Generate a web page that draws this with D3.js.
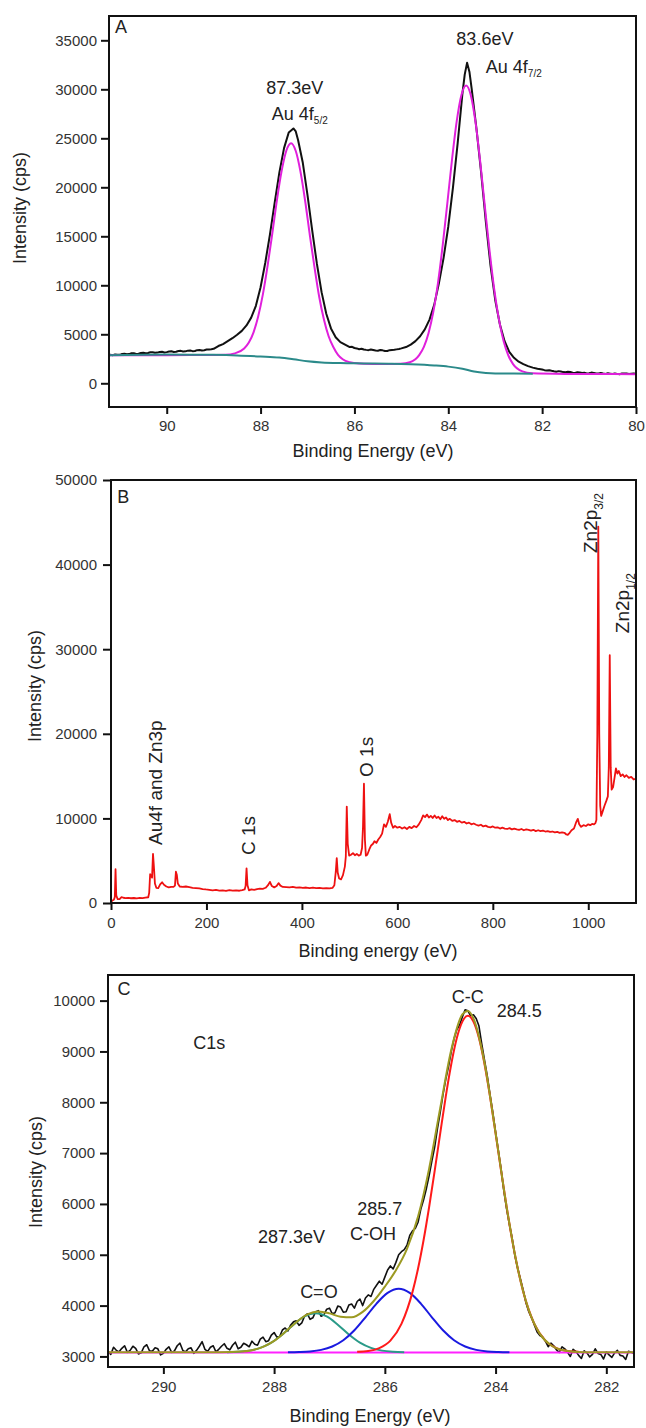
<!DOCTYPE html>
<html>
<head>
<meta charset="utf-8">
<script src="https://cdn.jsdelivr.net/npm/d3@7"></script>
<style>
body { margin: 0; background: #fff; }
svg { display: block; }
text { font-family: Arial, "Liberation Sans", sans-serif; }
</style>
</head>
<body>
<svg id="chart" width="646" height="1428"></svg>
<script>
// ---- panel A: Au 4f (binding energy eV, cps) ----
var aRaw = [[91.23,2830],[91.2,2900],[91.15,2870],[91.1,2950],[91.05,2920],[91.0,2900],[90.95,2990],[90.9,3010],[90.85,2960],[90.8,2980],[90.75,3070],[90.7,3060],[90.65,3000],[90.6,3020],[90.55,3100],[90.5,3120],[90.45,3060],[90.4,3090],[90.35,3160],[90.3,3170],[90.25,3110],[90.2,3130],[90.15,3200],[90.1,3210],[90.05,3150],[90.0,3180],[89.95,3250],[89.9,3260],[89.85,3200],[89.8,3220],[89.75,3300],[89.7,3310],[89.65,3240],[89.6,3260],[89.55,3330],[89.5,3340],[89.45,3280],[89.4,3290],[89.35,3380],[89.3,3400],[89.25,3340],[89.2,3380],[89.15,3440],[89.1,3450],[89.05,3480],[89.0,3520],[88.9,3800],[88.8,4000],[88.7,4300],[88.6,4600],[88.5,4950],[88.4,5350],[88.3,5900],[88.2,6700],[88.1,7900],[88.0,9800],[87.9,12300],[87.8,15200],[87.7,18400],[87.6,21500],[87.5,24000],[87.4,25600],[87.3,26000],[87.25,25700],[87.2,24800],[87.1,22500],[87.0,19200],[86.9,15600],[86.8,12200],[86.7,9300],[86.6,7100],[86.5,5600],[86.4,4700],[86.3,4200],[86.2,3950],[86.1,3700],[86.05,3720],[86.0,3600],[85.95,3560],[85.9,3480],[85.85,3530],[85.8,3450],[85.75,3410],[85.7,3380],[85.65,3450],[85.6,3400],[85.55,3340],[85.5,3320],[85.45,3390],[85.4,3360],[85.35,3290],[85.3,3300],[85.25,3380],[85.2,3400],[85.15,3420],[85.1,3460],[85.05,3500],[85.0,3560],[84.9,3700],[84.8,3950],[84.7,4300],[84.6,4800],[84.5,5500],[84.4,6500],[84.3,8000],[84.2,10200],[84.1,12800],[84.0,16000],[83.9,20000],[83.8,24500],[83.7,29500],[83.65,31500],[83.6,32700],[83.55,31800],[83.5,30000],[83.4,26000],[83.3,21500],[83.2,16500],[83.1,12000],[83.0,8500],[82.9,6000],[82.8,4300],[82.7,3200],[82.6,2600],[82.5,2200],[82.4,1950],[82.3,1750],[82.2,1600],[82.1,1480],[82.0,1400],[81.95,1340],[81.9,1300],[81.85,1330],[81.8,1270],[81.75,1220],[81.7,1180],[81.65,1240],[81.6,1200],[81.55,1140],[81.5,1120],[81.45,1180],[81.4,1150],[81.35,1080],[81.3,1060],[81.25,1120],[81.2,1100],[81.15,1040],[81.1,1080],[81.05,1010],[81.0,1030],[80.95,1090],[80.9,1060],[80.85,990],[80.8,990],[80.75,1050],[80.7,1000],[80.65,960],[80.6,1020],[80.55,980],[80.5,940],[80.45,1000],[80.4,960],[80.35,930],[80.3,990],[80.25,1010],[80.2,1000],[80.15,950],[80.1,980],[80.05,1000],[80.0,960]];
var aFit = [[91.23,2850],[90.5,2860],[90,2870],[89.5,2880],[88.95,2885],[88.75,2900],[88.55,3050],[88.35,3550],[88.25,4150],[88.15,5200],[88.05,6850],[87.95,9100],[87.85,12000],[87.75,15300],[87.65,18750],[87.55,21700],[87.45,23760],[87.35,24500],[87.25,23700],[87.15,21600],[87.05,18600],[86.95,15100],[86.85,11800],[86.75,8800],[86.65,6500],[86.55,4800],[86.45,3700],[86.35,2900],[86.25,2450],[86.1,2150],[85.9,2020],[85.6,1980],[85.3,1970],[85.02,2000],[84.82,2150],[84.62,2880],[84.52,3725],[84.42,5140],[84.32,7270],[84.22,10230],[84.12,14040],[84.02,18390],[83.92,22860],[83.82,26760],[83.72,29430],[83.62,30400],[83.52,29400],[83.42,26640],[83.32,22610],[83.22,18000],[83.12,13500],[83.02,9560],[82.92,6500],[82.82,4290],[82.72,2835],[82.62,1960],[82.42,1210],[82.22,1020],[81.5,960],[81,950],[80,930]];
var aBg = [[91.23,2870],[90.5,2920],[90,2940],[89.5,2920],[89,2900],[88.5,2840],[88,2730],[87.6,2620],[87.3,2450],[87.0,2250],[86.7,2130],[86.3,2060],[85.8,2030],[85.2,2000],[84.8,1940],[84.3,1820],[84.0,1700],[83.7,1480],[83.45,1200],[83.2,1060],[83.0,1010],[82.6,990],[82.2,980]];
var aXTicks = [90, 88, 86, 84, 82, 80];
var aYTicks = [0, 5000, 10000, 15000, 20000, 25000, 30000, 35000];

// ---- panel B: survey ----
var bSurvey = [[0,100],[3,300],[6,380],[8,700],[9.5,4000],[11,900],[14,450],[18,470],[22,700],[26,620],[30,580],[36,600],[42,560],[48,590],[54,550],[60,600],[66,580],[72,630],[78,680],[80,1200],[82,3400],[84,3200],[86,3000],[88,5800],[90,4200],[92,2300],[95,1800],[99,1750],[103,2200],[107,2450],[111,2150],[116,1950],[121,1850],[126,1900],[131,1900],[134,2050],[136,3700],[138,3300],[140,2300],[144,1950],[150,1900],[157,1950],[164,1880],[171,1800],[178,1760],[185,1720],[192,1650],[199,1600],[206,1560],[213,1500],[220,1550],[227,1470],[234,1500],[241,1440],[248,1520],[255,1460],[262,1500],[269,1450],[275,1520],[280,1600],[282,2000],[284,4100],[286,2100],[289,1500],[294,1600],[300,1560],[306,1650],[312,1700],[318,1680],[324,1800],[329,2100],[333,2500],[337,2000],[342,1850],[347,2000],[351,2350],[355,2050],[360,1900],[367,1880],[374,1850],[381,1900],[388,1820],[395,1850],[402,1790],[409,1830],[416,1760],[423,1810],[430,1750],[437,1790],[444,1730],[451,1770],[458,1720],[464,1780],[468,2100],[471,3700],[473,5300],[475,3600],[478,2900],[482,2800],[486,3300],[490,4300],[492,5500],[494,11400],[496,7000],[499,5600],[503,5700],[507,5900],[511,5650],[515,5800],[519,5600],[523,5700],[526,6500],[528,9000],[530,14100],[532,7500],[534,5600],[537,5700],[541,6300],[545,6800],[549,7000],[552,7300],[556,7100],[560,7500],[564,7800],[568,8200],[572,9300],[576,9000],[580,9600],[584,10500],[587,9500],[591,8900],[595,9100],[600,8900],[605,9000],[610,8800],[615,8950],[620,8750],[625,9000],[630,8850],[635,9100],[640,8950],[645,9300],[650,9800],[654,10350],[658,10150],[662,10450],[666,10100],[670,10300],[674,10050],[678,10350],[682,10050],[686,10200],[690,9900],[694,10250],[698,9950],[702,10100],[706,9800],[710,9950],[715,9700],[720,9800],[725,9600],[730,9700],[735,9500],[740,9600],[745,9400],[750,9500],[755,9300],[760,9400],[765,9250],[770,9150],[775,9250],[780,9050],[785,9150],[790,9000],[795,8950],[800,9050],[805,8900],[810,8950],[815,8800],[820,8900],[825,8800],[830,8750],[835,8850],[840,8700],[845,8800],[850,8700],[855,8650],[860,8750],[865,8600],[870,8700],[875,8650],[880,8550],[885,8650],[890,8500],[895,8600],[900,8500],[905,8550],[910,8450],[915,8500],[920,8400],[925,8450],[930,8350],[935,8400],[940,8300],[945,8350],[950,8300],[954,8100],[957,8050],[961,8300],[965,8600],[970,8800],[975,9600],[978,9950],[981,9300],[985,9000],[990,9200],[995,9100],[1000,9300],[1004,9200],[1008,9350],[1012,9300],[1015,9450],[1017,9800],[1019,20000],[1021,44500],[1023,20000],[1025,11500],[1027,10300],[1030,10800],[1034,11500],[1038,12100],[1041,12600],[1043,16000],[1045,29300],[1047,16000],[1049,13400],[1052,13700],[1055,14800],[1058,15900],[1061,15300],[1064,15600],[1068,15000],[1072,15200],[1076,14900],[1080,15100],[1085,14800],[1090,14900],[1095,14600],[1100,14700]];
var bXTicks = [0, 200, 400, 600, 800, 1000];
var bYTicks = [0, 10000, 20000, 30000, 40000, 50000];

// ---- panel C: C1s ----
var cRaw = [[291.00,3110],[290.95,3040],[290.90,3180],[290.85,3120],[290.80,3090],[290.75,3160],[290.70,3210],[290.65,3080],[290.60,3120],[290.55,3200],[290.50,3160],[290.45,3050],[290.40,3070],[290.35,3190],[290.30,3230],[290.25,3110],[290.20,3100],[290.15,3170],[290.10,3150],[290.05,3030],[290.00,3060],[289.95,3140],[289.90,3190],[289.85,3080],[289.80,3110],[289.75,3210],[289.70,3260],[289.65,3120],[289.60,3090],[289.55,3150],[289.50,3170],[289.45,3060],[289.40,3120],[289.35,3200],[289.30,3290],[289.25,3140],[289.20,3100],[289.15,3180],[289.10,3210],[289.05,3090],[289.00,3140],[288.95,3200],[288.90,3250],[288.85,3160],[288.80,3130],[288.75,3220],[288.70,3280],[288.65,3150],[288.60,3180],[288.55,3260],[288.50,3230],[288.45,3190],[288.40,3300],[288.35,3240],[288.30,3220],[288.25,3340],[288.20,3380],[288.15,3290],[288.10,3310],[288.05,3420],[288.00,3470],[287.95,3380],[287.90,3390],[287.85,3520],[287.80,3560],[287.75,3500],[287.70,3620],[287.65,3680],[287.60,3700],[287.55,3610],[287.50,3660],[287.45,3790],[287.40,3840],[287.35,3730],[287.30,3760],[287.25,3880],[287.20,3900],[287.15,3790],[287.10,3820],[287.05,3930],[287.00,3950],[286.95,3840],[286.90,3860],[286.85,3990],[286.80,3970],[286.75,3870],[286.70,3880],[286.65,4010],[286.60,4030],[286.55,3950],[286.50,4080],[286.45,4130],[286.40,4000],[286.35,4150],[286.30,4210],[286.25,4180],[286.20,4320],[286.15,4400],[286.10,4480],[286.05,4420],[286.00,4560],[285.95,4700],[285.90,4780],[285.85,4720],[285.80,4850],[285.75,5000],[285.70,5060],[285.65,5100],[285.60,5190],[285.55,5380],[285.50,5470],[285.45,5520],[285.40,5640],[285.35,5900],[285.30,6080],[285.25,6300],[285.20,6560],[285.15,6850],[285.10,7120],[285.05,7480],[285.00,7800],[284.95,8150],[284.90,8450],[284.85,8700],[284.80,9000],[284.75,9250],[284.70,9430],[284.65,9520],[284.60,9680],[284.55,9820],[284.50,9800],[284.45,9700],[284.40,9720],[284.35,9650],[284.30,9500],[284.25,9150],[284.20,8830],[284.15,8520],[284.10,8150],[284.05,7800],[284.00,7420],[283.95,7050],[283.90,6680],[283.85,6250],[283.80,5900],[283.75,5600],[283.70,5320],[283.65,4980],[283.60,4730],[283.55,4520],[283.50,4300],[283.45,4050],[283.40,3880],[283.35,3760],[283.30,3620],[283.25,3480],[283.20,3410],[283.15,3380],[283.10,3300],[283.05,3190],[283.00,3260],[282.95,3210],[282.90,3130],[282.85,3080],[282.80,3190],[282.75,3150],[282.70,3080],[282.65,3000],[282.60,3140],[282.55,3100],[282.50,3020],[282.45,2960],[282.40,3110],[282.35,3070],[282.30,2990],[282.25,3040],[282.20,3150],[282.15,3060],[282.10,3040],[282.05,2950],[282.00,3090],[281.95,3030],[281.90,2980],[281.85,3070],[281.80,3120],[281.75,3020],[281.70,3010],[281.65,2940],[281.60,3100],[281.55,3080],[281.50,3060]];
var cBase = [[291,3078],[281.5,3078]];
var cCO = [[288.85,3083],[288.65,3091],[288.45,3114],[288.25,3168],[288.05,3272],[287.85,3432],[287.65,3624],[287.45,3786],[287.25,3850],[287.05,3786],[286.85,3624],[286.65,3432],[286.45,3272],[286.25,3168],[286.05,3114],[285.85,3091],[285.65,3083]];
var cCOH = [[287.75,3081],[287.55,3086],[287.35,3098],[287.15,3129],[286.95,3196],[286.75,3319],[286.55,3514],[286.35,3770],[286.15,4040],[285.95,4250],[285.75,4330],[285.55,4250],[285.35,4040],[285.15,3770],[284.95,3514],[284.75,3319],[284.55,3196],[284.35,3129],[284.15,3098],[283.95,3086],[283.75,3081]];
var cCC = [[286.5,3090],[286.3,3105],[286.1,3162],[285.9,3310],[285.7,3640],[285.5,4270],[285.4,4730],[285.3,5290],[285.2,5940],[285.1,6650],[285.0,7390],[284.9,8113],[284.8,8753],[284.7,9263],[284.6,9587],[284.5,9700],[284.4,9587],[284.3,9263],[284.2,8753],[284.1,8113],[284.0,7390],[283.9,6650],[283.8,5940],[283.7,5290],[283.6,4730],[283.5,4270],[283.3,3640],[283.1,3310],[282.9,3162],[282.7,3105],[282.5,3090]];
var cEnv = [[291,3080],[289.5,3080],[289,3081],[288.6,3095],[288.4,3123],[288.2,3188],[288.0,3307],[287.8,3480],[287.6,3674],[287.4,3827],[287.2,3885],[287.0,3847],[286.8,3779],[286.6,3769],[286.4,3876],[286.2,4091],[286.0,4373],[285.8,4697],[285.6,5117],[285.4,5751],[285.2,6695],[285.0,7885],[284.8,9035],[284.6,9727],[284.5,9795],[284.4,9648],[284.2,8778],[284.0,7399],[283.8,5939],[283.6,4730],[283.4,3911],[283.2,3444],[283.0,3220],[282.8,3126],[282.6,3094],[282.4,3084],[281.5,3080]];
var cXTicks = [290, 288, 286, 284, 282];
var cYTicks = [3000, 4000, 5000, 6000, 7000, 8000, 9000, 10000];

// annotations in data units: [x, y, text, subscript, anchor]
var aNotes = [[91.1, 35700, 'A'], [87.27, 29500, '87.3eV', null, 'middle'], [87.76, 26840, 'Au 4f', '5/2'], [83.22, 34500, '83.6eV', null, 'middle'], [83.2, 31630, 'Au 4f', '7/2']];
var bNotes = [[13, 47280, 'B']];
var bPeaks = [[93, 6860, 'Au4f and Zn3p'], [288, 5670, 'C 1s'], [535, 14900, 'O 1s'], [1004, 41370, 'Zn2p', '3/2'], [1071, 31900, 'Zn2p', '1/2']];
var cNotes = [[290.83, 10117, 'C'], [289.46, 9058, 'C1s'], [284.79, 9960, 'C-C'], [283.98, 9686, '284.5'], [286.5, 5780, '285.7'], [286.63, 5290, 'C-OH'], [288.29, 5230, '287.3eV'], [287.53, 4152, 'C=O']];

var svg = d3.select('#chart');
var fmt = d3.format('d');

function addNote(g, px, py, n, rotate) {
  var t = g.append('text').attr('font-size', 18).attr('fill', '#222');
  if (rotate) {
    t.attr('transform', 'translate(' + px + ',' + py + ') rotate(-90)').attr('dy', '0.35em').attr('font-size', 19);
  } else {
    t.attr('x', px).attr('y', py);
  }
  if (n[4]) t.attr('text-anchor', n[4]);
  t.append('tspan').text(n[2]);
  if (n[3]) t.append('tspan').attr('font-size', rotate ? 12 : 10).attr('dy', rotate ? 6 : 4).text(n[3]);
}

function drawPanel(p) {
  var x = d3.scaleLinear().domain(p.xDomain).range([p.left, p.right]);
  var y = d3.scaleLinear().domain(p.yDomain).range([p.bottom, p.top]);
  var g = svg.append('g');
  svg.append('clipPath').attr('id', 'clip' + p.name).append('rect')
    .attr('x', p.left).attr('y', p.top)
    .attr('width', p.right - p.left).attr('height', p.bottom - p.top);
  var plot = g.append('g').attr('clip-path', 'url(#clip' + p.name + ')');

  p.series.forEach(function(s) {
    var line = d3.line()
      .x(function(d) { return x(d[0]); })
      .y(function(d) { return y(d[1]); })
      .curve(s.smooth ? d3.curveMonotoneX : d3.curveLinear);
    plot.append('path')
      .attr('d', line(s.data))
      .attr('fill', 'none')
      .attr('stroke', s.color)
      .attr('stroke-width', s.width)
      .attr('stroke-linejoin', 'round');
  });

  var xa = g.append('g').attr('transform', 'translate(0,' + p.bottom + ')')
    .call(d3.axisBottom(x).tickValues(p.xTicks).tickSize(7).tickPadding(p.xPad).tickFormat(fmt));
  var ya = g.append('g').attr('transform', 'translate(' + p.left + ',0)')
    .call(d3.axisLeft(y).tickValues(p.yTicks).tickSize(8).tickPadding(p.yPad).tickFormat(fmt));
  [xa, ya].forEach(function(a) {
    a.select('.domain').remove();
    a.selectAll('line').attr('stroke', '#111').attr('stroke-width', 2);
    a.selectAll('text').attr('font-size', 15).attr('fill', '#333')
      .attr('font-family', 'Arial, "Liberation Sans", sans-serif');
  });

  g.append('rect')
    .attr('x', p.left).attr('y', p.top)
    .attr('width', p.right - p.left).attr('height', p.bottom - p.top)
    .attr('fill', 'none').attr('stroke', '#111').attr('stroke-width', 2);

  g.append('text').attr('x', p.xTitle[0]).attr('y', p.xTitle[1])
    .attr('text-anchor', 'middle').attr('font-size', 18).attr('fill', '#222')
    .text(p.xLabel);
  g.append('text')
    .attr('transform', 'translate(' + p.yTitle[0] + ',' + p.yTitle[1] + ') rotate(-90)')
    .attr('text-anchor', 'middle').attr('dy', '0.35em').attr('font-size', 18).attr('fill', '#222')
    .text('Intensity (cps)');

  (p.notes || []).forEach(function(n) { addNote(g, x(n[0]), y(n[1]), n, false); });
  (p.vnotes || []).forEach(function(n) { addNote(g, x(n[0]), y(n[1]), n, true); });
}

drawPanel({
  name: 'A', xDomain: [91.23, 80], yDomain: [-2420, 37480],
  left: 109, right: 636, top: 16, bottom: 407,
  xTicks: aXTicks, yTicks: aYTicks, xPad: 6, yPad: 4,
  xLabel: 'Binding Energy (eV)', xTitle: [373, 457], yTitle: [20, 208],
  series: [
    { data: aRaw, color: '#111', width: 2, smooth: false },
    { data: aFit, color: '#e020dc', width: 2, smooth: true },
    { data: aBg, color: '#2b8a8a', width: 2, smooth: true }
  ],
  notes: aNotes
});

drawPanel({
  name: 'B', xDomain: [0, 1100], yDomain: [0, 50000],
  left: 111, right: 636, top: 480, bottom: 903,
  xTicks: bXTicks, yTicks: bYTicks, xPad: 7, yPad: 6,
  xLabel: 'Binding energy (eV)', xTitle: [378, 957], yTitle: [35, 686],
  series: [
    { data: bSurvey, color: '#ee1111', width: 1.8, smooth: false }
  ],
  notes: bNotes, vnotes: bPeaks
});

drawPanel({
  name: 'C', xDomain: [291, 281.5], yDomain: [2792, 10504],
  left: 108, right: 634, top: 975, bottom: 1367,
  xTicks: cXTicks, yTicks: cYTicks, xPad: 7, yPad: 5,
  xLabel: 'Binding Energy (eV)', xTitle: [370, 1422], yTitle: [36, 1172],
  series: [
    { data: cRaw, color: '#111', width: 1.6, smooth: false },
    { data: cBase, color: '#ff22ff', width: 2, smooth: false },
    { data: cCO, color: '#2a9a88', width: 2, smooth: true },
    { data: cCOH, color: '#1a1ae0', width: 2, smooth: true },
    { data: cCC, color: '#ff1a1a', width: 2, smooth: true },
    { data: cEnv, color: '#9c9a22', width: 2, smooth: true }
  ],
  notes: cNotes
});
</script>
</body>
</html>
